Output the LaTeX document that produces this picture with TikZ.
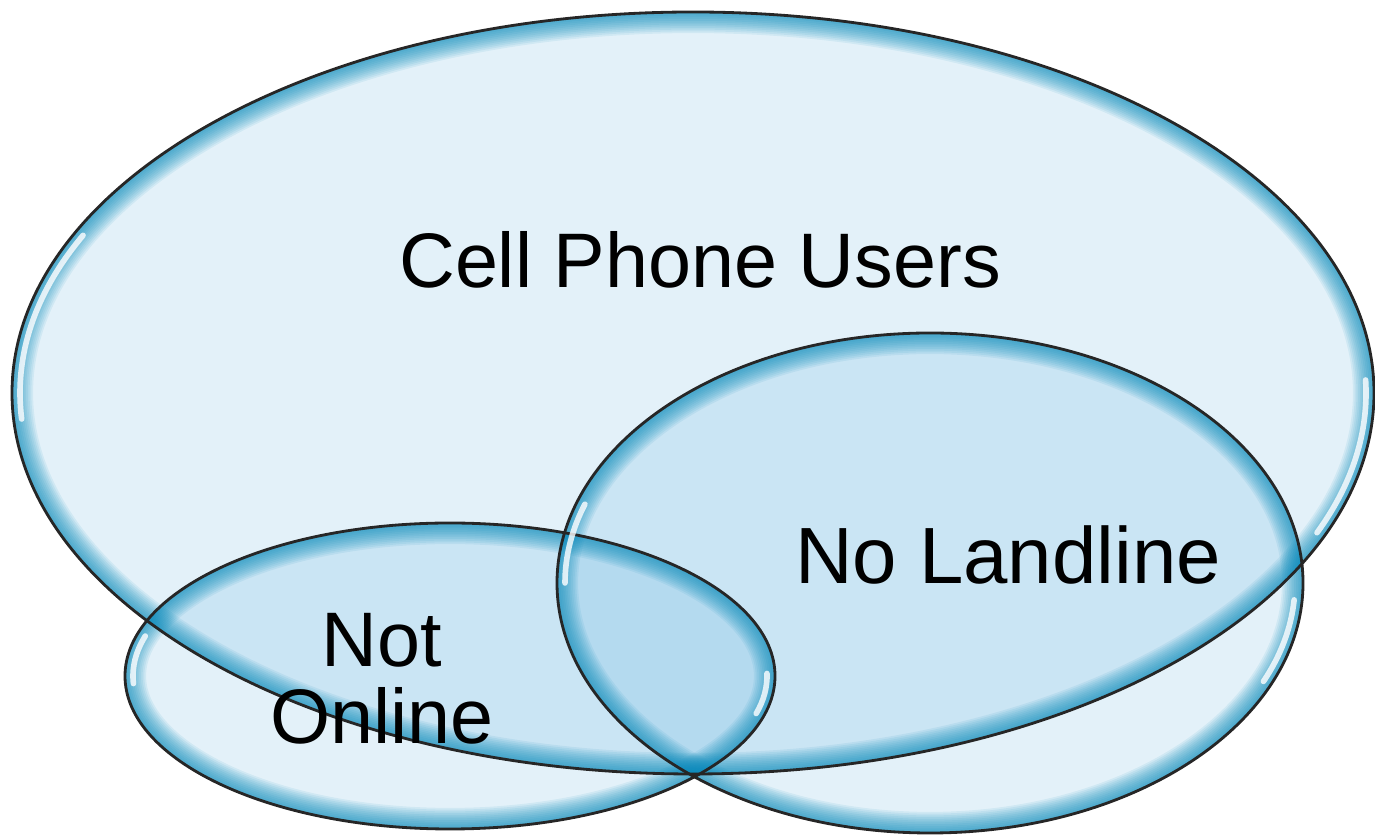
\documentclass[tikz,border=0pt]{standalone}
\usepackage{fontspec}
\setmainfont{Liberation Sans}
\usetikzlibrary{positioning}
\definecolor{setfill}{RGB}{0,128,201}
\definecolor{setglow}{RGB}{10,140,185}
\tikzstyle{region} = [fill=setfill, fill opacity=0.11, draw=none]
\tikzstyle{rim} = [draw=black!85, line width=0.8pt]
\tikzstyle{shine} = [draw=white, line width=1.6pt, line cap=round, opacity=0.8]
\tikzstyle{setname} = [font=\fontsize{22}{22}\selectfont, align=center, inner sep=0pt]
\newcommand{\glowellipse}[3]{%
  \begin{scope}
    \clip (#1) ellipse [x radius=#2, y radius=#3];
    \foreach \w in {1,2,...,12}
      \draw[setglow, line width=\w pt, opacity=0.09] (#1) ellipse [x radius=#2, y radius=#3];
  \end{scope}}

\begin{document}
\begin{tikzpicture}

\useasboundingbox (0,0) rectangle (13.75,8.35);

\coordinate (cellc) at (6.93,4.42);
\coordinate (landc) at (9.30,2.52);
\coordinate (onlc) at (4.50,1.59);

\fill[region] (cellc) ellipse [x radius=6.81, y radius=3.81];
\fill[region] (landc) ellipse [x radius=3.73, y radius=2.50];
\fill[region] (onlc) ellipse [x radius=3.25, y radius=1.53];

\glowellipse{cellc}{6.81}{3.81}
\glowellipse{landc}{3.73}{2.50}
\glowellipse{onlc}{3.25}{1.53}

\draw[rim] (cellc) ellipse [x radius=6.81, y radius=3.81];
\draw[rim] (landc) ellipse [x radius=3.73, y radius=2.50];
\draw[rim] (onlc) ellipse [x radius=3.25, y radius=1.53];

% highlights
\draw[shine] (cellc) ++(155:6.73 and 3.73) arc [start angle=155, end angle=184, x radius=6.73, y radius=3.73];
\draw[shine] (cellc) ++(-22:6.73 and 3.73) arc [start angle=-22, end angle=2, x radius=6.73, y radius=3.73];
\draw[shine] (landc) ++(161:3.65 and 2.42) arc [start angle=161, end angle=180, x radius=3.65, y radius=2.42];
\draw[shine] (landc) ++(-24:3.65 and 2.42) arc [start angle=-24, end angle=-4, x radius=3.65, y radius=2.42];
\draw[shine] (onlc) ++(164:3.17 and 1.45) arc [start angle=164, end angle=183, x radius=3.17, y radius=1.45];
\draw[shine] (onlc) ++(-15:3.17 and 1.45) arc [start angle=-15, end angle=1, x radius=3.17, y radius=1.45];

\node[setname] (cellusers) at (7.00,5.75) {Cell Phone Users};
\node[setname, font=\fontsize{22.7}{22.7}\selectfont] (nolandline) at (10.08,2.80) {No Landline};
\node[setname] (notonline) at (3.82,1.56) {Not\\Online};

\end{tikzpicture}
\end{document}
